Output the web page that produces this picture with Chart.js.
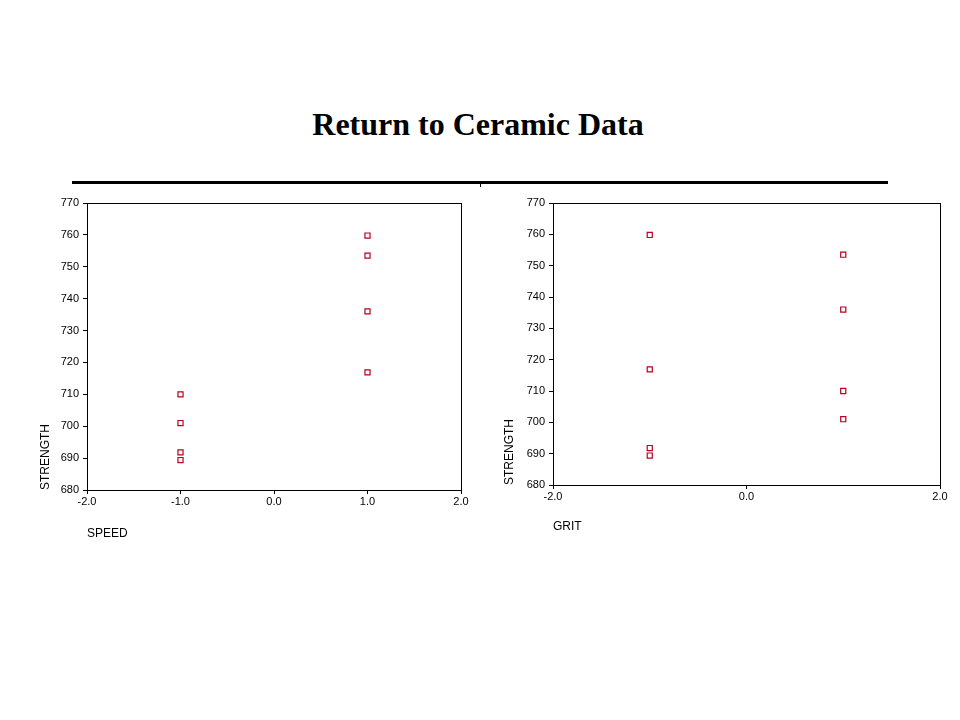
<!DOCTYPE html>
<html>
<head>
<meta charset="utf-8">
<script src="https://cdn.jsdelivr.net/npm/chart.js@4/dist/chart.umd.min.js"></script>
<style>
  html, body { margin: 0; padding: 0; background: #fff; }
  body { width: 960px; height: 720px; position: relative; overflow: hidden; }
  #title { position: absolute; left: 0; width: 956px; top: 108px; text-align: center;
           font: bold 32px "Liberation Serif", "Times New Roman", serif; line-height: 1; color: #000; }
  #rule { position: absolute; left: 72px; top: 181px; width: 816px; height: 3px; background: #000; }
  #tick { position: absolute; left: 480px; top: 184px; width: 1px; height: 3px; background: #000; }
  canvas { position: absolute; }
  #c1 { left: 30px; top: 190px; }
  #c2 { left: 490px; top: 190px; }
</style>
</head>
<body>
<div id="title">Return to Ceramic Data</div>
<div id="rule"></div>
<div id="tick"></div>
<canvas id="c1" width="443" height="360"></canvas>
<canvas id="c2" width="462" height="354"></canvas>
<script>
// Data
const strength = [759.8, 753.5, 736.0, 716.9, 710.0, 701.0, 691.8, 689.4];
const speed    = [1, 1, 1, 1, -1, -1, -1, -1];
const grit     = [-1, 1, 1, -1, 1, 1, -1, -1];
const yTicks   = [680, 690, 700, 710, 720, 730, 740, 750, 760, 770];
const speedTicks = [-2.0, -1.0, 0.0, 1.0, 2.0];
const gritTicks  = [-2.0, 0.0, 2.0];

const markerColor = '#b80022';
const tickFont = { family: '"Liberation Sans", Arial, sans-serif', size: 11 };
const titleFont = { family: '"Liberation Sans", Arial, sans-serif', size: 12 };

const boxPlugin = {
  id: 'box',
  afterDraw(chart) {
    const a = chart.chartArea, ctx = chart.ctx;
    ctx.save();
    ctx.strokeStyle = '#000';
    ctx.lineWidth = 1;
    ctx.strokeRect(Math.round(a.left) + 0.5, Math.round(a.top) + 0.5,
                   Math.round(a.right - a.left), Math.round(a.bottom - a.top));
    ctx.restore();
  }
};

function makeChart(id, xs, xTicks, xTitle, yAxisWidth, yTitlePad, xAxisHeight, padBottom) {
  const pts = xs.map((x, i) => ({ x: x, y: strength[i] }));
  return new Chart(document.getElementById(id), {
    type: 'scatter',
    data: {
      datasets: [{
        data: pts,
        pointStyle: 'rect',
        pointRadius: 3.6,
        pointHoverRadius: 3.6,
        borderColor: markerColor,
        backgroundColor: '#ffffff',
        borderWidth: 1.2
      }]
    },
    options: {
      responsive: false,
      animation: false,
      events: [],
      layout: { padding: { left: 0, top: 13, right: 12, bottom: padBottom } },
      plugins: { legend: { display: false }, tooltip: { enabled: false } },
      scales: {
        x: {
          type: 'linear',
          min: xTicks[0],
          max: xTicks[xTicks.length - 1],
          afterBuildTicks: s => { s.ticks = xTicks.map(v => ({ value: v })); },
          afterFit: s => { s.height = xAxisHeight; s.paddingLeft = 0; s.paddingRight = 0; s.paddingTop = 0; s.paddingBottom = 0; },
          grid: { display: true, drawOnChartArea: false, drawTicks: true, tickLength: 4, color: '#000', lineWidth: 1 },
          border: { display: true, color: '#000', width: 1 },
          ticks: { color: '#000', font: tickFont, padding: 1, maxRotation: 0,
                   callback: v => Number(v).toFixed(1) },
          title: { display: true, text: xTitle, align: 'start', color: '#000', font: titleFont,
                   padding: { top: 0, bottom: 0 } }
        },
        y: {
          type: 'linear',
          min: yTicks[0],
          max: yTicks[yTicks.length - 1],
          afterBuildTicks: s => { s.ticks = yTicks.map(v => ({ value: v })); },
          afterFit: s => { s.width = yAxisWidth; s.paddingLeft = 0; s.paddingRight = 0; s.paddingTop = 0; s.paddingBottom = 0; },
          grid: { display: true, drawOnChartArea: false, drawTicks: true, tickLength: 4, color: '#000', lineWidth: 1 },
          border: { display: true, color: '#000', width: 1 },
          ticks: { color: '#000', font: tickFont, padding: 4,
                   callback: v => String(v) },
          title: { display: true, text: 'STRENGTH', align: 'start', color: '#000', font: titleFont,
                   padding: { top: yTitlePad, bottom: 0 } }
        }
      }
    },
    plugins: [boxPlugin]
  });
}

makeChart('c1', speed, speedTicks, 'SPEED', 57, 8, 51, 9);
makeChart('c2', grit, gritTicks, 'GRIT', 63, 12.3, 49, 10);
</script>
</body>
</html>
